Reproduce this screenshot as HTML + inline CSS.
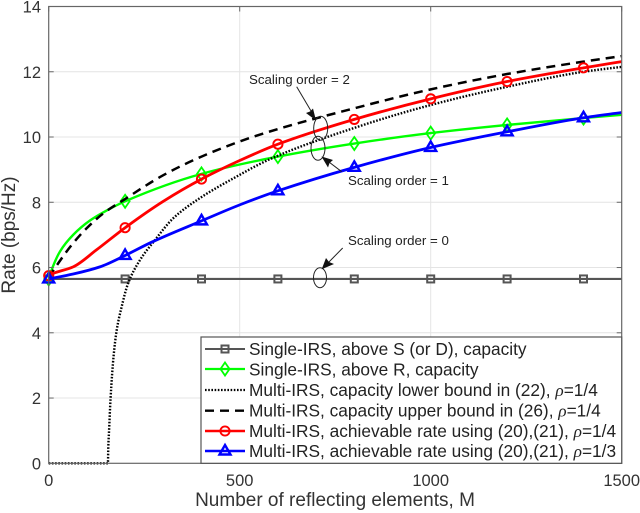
<!DOCTYPE html>
<html lang="en">
<head>
<meta charset="utf-8">
<title>Rate vs number of reflecting elements</title>
<style>
html,body{margin:0;padding:0;background:#fff}
svg{display:block}
text{font-family:"Liberation Sans",sans-serif;fill:#333}
.tick{font-size:16.5px}
.title{font-size:19px}
.leg{font-size:17.3px;fill:#222}
.note{font-size:13.3px;fill:#222}
.rho{font-family:"Liberation Serif",serif;font-style:italic}
</style>
</head>
<body>
<svg id="chart" width="640" height="513" viewBox="0 0 640 513" xmlns="http://www.w3.org/2000/svg">
<g id="grid"></g>
<g id="series"></g>
<g id="axes"></g>

<g fill="none" stroke="#222" stroke-width="1">
  <ellipse cx="320.7" cy="128.3" rx="7" ry="12"/>
  <ellipse cx="318" cy="148.3" rx="7" ry="12"/>
  <ellipse cx="320" cy="277.7" rx="6.5" ry="10"/>
  <line x1="296.7" y1="86.7" x2="314" y2="116"/>
  <polygon points="316,120.5 306,113 310,111.5 313,108.5" fill="#111" stroke="none"/>
  <line x1="341.7" y1="171.7" x2="325" y2="159"/>
  <polygon points="321.5,156.5 333,160 329.5,163 328,167.5" fill="#111" stroke="none"/>
  <line x1="342.7" y1="248" x2="325" y2="266"/>
  <polygon points="321.7,269.3 326,258 329,262 334,264" fill="#111" stroke="none"/>
</g>
<text class="note" x="249" y="84">Scaling order = 2</text>
<text class="note" x="348" y="185">Scaling order = 1</text>
<text class="note" x="348" y="245">Scaling order = 0</text>

<g id="legend">
  <rect x="201" y="337" width="420.7" height="126.3" fill="#fff" stroke="#555" stroke-width="1.2"/>
  <g id="legend-keys"></g>
  <text class="leg" x="249" y="355">Single-IRS, above S (or D), capacity</text>
  <text class="leg" x="249" y="375.5">Single-IRS, above R, capacity</text>
  <text class="leg" x="249" y="396">Multi-IRS, capacity lower bound in (22), <tspan class="rho">ρ</tspan>=1/4</text>
  <text class="leg" x="249" y="416.5">Multi-IRS, capacity upper bound in (26), <tspan class="rho">ρ</tspan>=1/4</text>
  <text class="leg" x="249" y="437">Multi-IRS, achievable rate using (20),(21), <tspan class="rho">ρ</tspan>=1/4</text>
  <text class="leg" x="249" y="457">Multi-IRS, achievable rate using (20),(21), <tspan class="rho">ρ</tspan>=1/3</text>
</g>

<text class="title" x="335" y="506" text-anchor="middle">Number of reflecting elements, M</text>
<text class="title" transform="translate(15,235) rotate(-90)" text-anchor="middle">Rate (bps/Hz)</text>
</svg>

<script>
const xTicks = [0, 500, 1000, 1500];
const yTicks = [0, 2, 4, 6, 8, 10, 12, 14];
const markerM = [0, 200, 400, 600, 800, 1000, 1200, 1400];

const singleSM = [0, 1500];
const singleSRate = [5.65, 5.65];

const singleRM = [0, 10, 30, 64, 108, 152, 200, 400, 600, 800, 1000, 1200, 1400, 1500];
const singleRRate = [5.65, 6.0, 6.5, 7.0, 7.44, 7.75, 8.03, 8.87, 9.4, 9.8, 10.12, 10.37, 10.58, 10.68];

const lowerM = [0, 155, 156, 158, 162, 170, 178, 190, 208, 239, 278, 326, 396, 483, 579, 800, 1000, 1200, 1400, 1500];
const lowerRate = [0, 0, 0.5, 1, 2, 3.3, 4.08, 4.75, 5.52, 6.23, 6.84, 7.51, 8.13, 8.73, 9.32, 10.28, 10.98, 11.54, 12, 12.15];

const upperM = [0, 16, 60, 99, 142, 200, 300, 400, 544, 800, 1000, 1200, 1400, 1500];
const upperRate = [5.7, 5.98, 6.69, 7.2, 7.65, 8.1, 8.83, 9.4, 10.04, 10.88, 11.46, 11.93, 12.31, 12.48];

const rateQuarterM = [0, 12, 64, 125, 200, 300, 400, 500, 600, 800, 1000, 1200, 1400, 1500];
const rateQuarter = [5.75, 5.82, 6.02, 6.54, 7.22, 8.03, 8.71, 9.28, 9.78, 10.54, 11.17, 11.7, 12.12, 12.31];

const rateThirdM = [0, 64, 134, 200, 270, 400, 500, 600, 800, 1000, 1200, 1400, 1500];
const rateThird = [5.65, 5.8, 6.02, 6.37, 6.78, 7.43, 7.92, 8.35, 9.07, 9.68, 10.16, 10.59, 10.75];

const NS = 'http://www.w3.org/2000/svg';
const X0 = 48.7, X1 = 621.7, Y0 = 463.3, Y1 = 6.5;
const xAxis = m => X0 + (m / 1500) * (X1 - X0);
const yAxis = r => Y0 - (r / 14) * (Y0 - Y1);

function make(tag, parent, attrs) {
  const el = document.createElementNS(NS, tag);
  for (const k in attrs) el.setAttribute(k, attrs[k]);
  parent.appendChild(el);
  return el;
}
function valueAt(ms, rs, m) {
  for (let i = 1; i < ms.length; i++) {
    if (m <= ms[i]) {
      const t = (m - ms[i - 1]) / (ms[i] - ms[i - 1]);
      return rs[i - 1] + t * (rs[i] - rs[i - 1]);
    }
  }
  return rs[rs.length - 1];
}
function smoothPath(ms, rs) {
  const xs = ms.map(xAxis), ys = rs.map(yAxis), n = xs.length;
  const d = [], s = [];
  for (let i = 0; i < n - 1; i++) s.push((ys[i + 1] - ys[i]) / (xs[i + 1] - xs[i]));
  d[0] = s[0];
  d[n - 1] = s[n - 2];
  for (let i = 1; i < n - 1; i++) {
    if (s[i - 1] * s[i] <= 0) { d[i] = 0; continue; }
    const h0 = xs[i] - xs[i - 1], h1 = xs[i + 1] - xs[i];
    const w1 = 2 * h1 + h0, w2 = h1 + 2 * h0;
    d[i] = (w1 + w2) / (w1 / s[i - 1] + w2 / s[i]);
  }
  let p = 'M' + xs[0].toFixed(2) + ' ' + ys[0].toFixed(2);
  for (let i = 0; i < n - 1; i++) {
    const h = (xs[i + 1] - xs[i]) / 3;
    p += ' C' + (xs[i] + h).toFixed(2) + ' ' + (ys[i] + d[i] * h).toFixed(2) + ' ' +
      (xs[i + 1] - h).toFixed(2) + ' ' + (ys[i + 1] - d[i + 1] * h).toFixed(2) + ' ' +
      xs[i + 1].toFixed(2) + ' ' + ys[i + 1].toFixed(2);
  }
  return p;
}
function drawMarker(parent, type, cx, cy, color) {
  let el;
  if (type === 'square') {
    el = make('rect', parent, {x: cx - 3.5, y: cy - 3.5, width: 7, height: 7, fill: 'none', stroke: color, 'stroke-width': 2});
  } else if (type === 'diamond') {
    el = make('polygon', parent, {points: [cx, cy - 6.5, cx + 4.5, cy, cx, cy + 6.5, cx - 4.5, cy].join(','), fill: 'none', stroke: color, 'stroke-width': 1.8});
  } else if (type === 'circle') {
    el = make('circle', parent, {cx: cx, cy: cy, r: 4.6, fill: 'none', stroke: color, 'stroke-width': 1.9});
  } else {
    el = make('polygon', parent, {points: [cx, cy - 6, cx + 5.5, cy + 3.5, cx - 5.5, cy + 3.5].join(','), fill: 'none', stroke: color, 'stroke-width': 2.4});
  }
  
  
}

const gridG = document.getElementById('grid');
const axesG = document.getElementById('axes');
const seriesG = document.getElementById('series');
const keysG = document.getElementById('legend-keys');

xTicks.slice(1, -1).forEach(t => {
  const g = make('line', gridG, {x1: xAxis(t), x2: xAxis(t), y1: Y0, y2: Y1, stroke: '#e4e4e4', 'stroke-width': 1});
  
  
});
yTicks.slice(1, -1).forEach(t => {
  const g = make('line', gridG, {x1: X0, x2: X1, y1: yAxis(t), y2: yAxis(t), stroke: '#e4e4e4', 'stroke-width': 1});
  
  
});

const seriesDefs = [
  {m: singleSM, r: singleSRate, color: '#555555', w: 2.2, dash: '', marker: 'square', name: 'single-irs-s'},
  {m: singleRM, r: singleRRate, color: '#00ff00', w: 2.4, dash: '', marker: 'diamond', name: 'single-irs-r'},
  {m: lowerM, r: lowerRate, color: '#000000', w: 2.4, dash: '1.6 1.6', marker: null, name: 'capacity-lower-bound'},
  {m: upperM, r: upperRate, color: '#000000', w: 2.5, dash: '9 6', marker: null, name: 'capacity-upper-bound'},
  {m: rateQuarterM, r: rateQuarter, color: '#ff0000', w: 2.8, dash: '', marker: 'circle', name: 'rate-rho-quarter'},
  {m: rateThirdM, r: rateThird, color: '#0000ff', w: 2.8, dash: '', marker: 'triangle', name: 'rate-rho-third'}
];
const keyRows = [349, 369, 390, 410.7, 431, 451];

seriesDefs.forEach((s, idx) => {
  const line = make('path', seriesG, {d: smoothPath(s.m, s.r), fill: 'none', stroke: s.color, 'stroke-width': s.w, 'stroke-linejoin': 'round'});
  if (s.dash) line.setAttribute('stroke-dasharray', s.dash);
  
  
  if (s.marker) {
    markerM.forEach(m => drawMarker(seriesG, s.marker, xAxis(m), yAxis(valueAt(s.m, s.r, m)), s.color));
  }
  const ky = keyRows[idx];
  const key = make('line', keysG, {x1: 205, x2: 245, y1: ky, y2: ky, stroke: s.color, 'stroke-width': s.w - 0.2});
  if (s.dash) key.setAttribute('stroke-dasharray', s.dash);
  
  
  if (s.marker) drawMarker(keysG, s.marker, 225, ky, s.color);
});

const frame = make('rect', axesG, {x: X0, y: Y1, width: X1 - X0, height: Y0 - Y1, fill: 'none', stroke: '#666', 'stroke-width': 1.2});



xTicks.forEach(t => {
  const x = xAxis(t);
  const a = make('line', axesG, {x1: x, x2: x, y1: Y1, y2: Y1 + 5, stroke: '#666', 'stroke-width': 1});
  
  
  const label = make('text', axesG, {x: x, y: 486, 'text-anchor': 'middle', 'class': 'tick'});
  label.textContent = t;
  
  
});
yTicks.forEach(t => {
  const y = yAxis(t);
  const a = make('line', axesG, {x1: X0, x2: X0 + 5, y1: y, y2: y, stroke: '#666', 'stroke-width': 1});
  
  
  const b = make('line', axesG, {x1: X1 - 5, x2: X1, y1: y, y2: y, stroke: '#666', 'stroke-width': 1});
  
  
  const label = make('text', axesG, {x: 41, y: y + 6, 'text-anchor': 'end', 'class': 'tick'});
  label.textContent = t;
  
  
});
</script>
</body>
</html>
